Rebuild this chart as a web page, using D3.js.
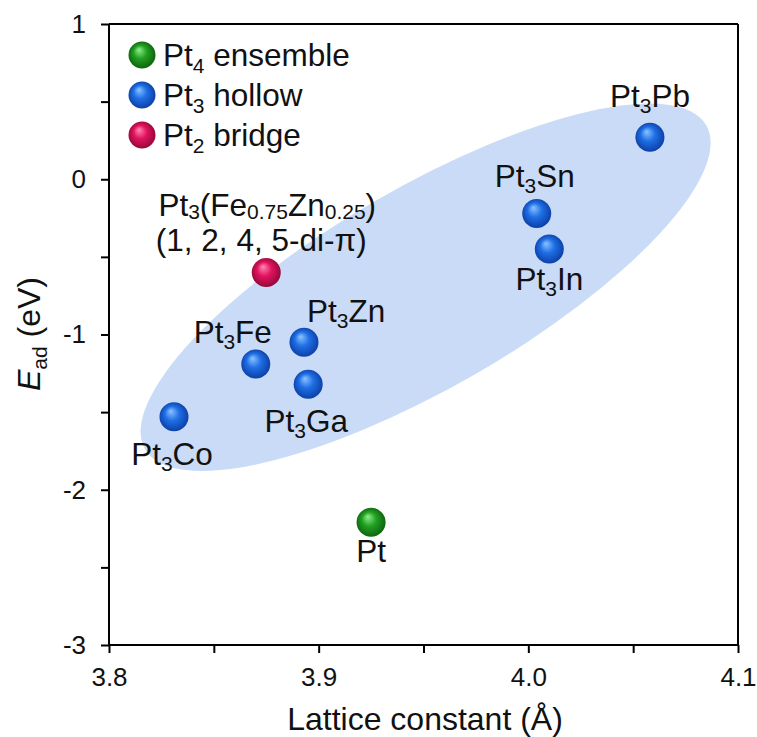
<!DOCTYPE html>
<html>
<head>
  <meta charset="utf-8">
  <script src="https://cdn.jsdelivr.net/npm/d3@7"></script>
<style>
  body {
    margin: 0;
    background: #fff;
  }
  text {
    font-family: Arial, "Liberation Sans", sans-serif;
    fill: #111;
  }
</style>
</head>
<body>
<script type="text/javascript">
  // data
  var names = ["Pt_{3}Co", "Pt_{3}Fe", "Pt_{3}Zn", "Pt_{3}Ga", "Pt_{3}Sn", "Pt_{3}In", "Pt_{3}Pb", "Pt", "Pt_{3}(Fe_{0.75}Zn_{0.25})"];
  var lattice = [3.831, 3.870, 3.893, 3.895, 4.004, 4.010, 4.058, 3.925, 3.875];
  var energy = [-1.53, -1.19, -1.05, -1.32, -0.22, -0.45, 0.27, -2.21, -0.60];
  var site = ["hollow", "hollow", "hollow", "hollow", "hollow", "hollow", "hollow", "ensemble", "bridge"];

  var legendNames = ["Pt_{4} ensemble", "Pt_{3} hollow", "Pt_{2} bridge"];
  var legendSites = ["ensemble", "hollow", "bridge"];

  var xTicks = [3.8, 3.9, 4.0, 4.1];
  var xMinor = [3.85, 3.95, 4.05];
  var yTicks = [1, 0, -1, -2, -3];
  var yMinor = [0.5, -0.5, -1.5, -2.5];

  // shaded trend region (centre in data units)
  var ellipseCentre = [3.951, -0.696];

  var width = 757, height = 737;
  var fs = 31.5;

  var svg = d3.select("body").append("svg")
      .attr("width", width)
      .attr("height", height);

  var x = d3.scaleLinear().domain([3.8, 4.1]).range([109, 738]);
  var y = d3.scaleLinear().domain([-3, 1]).range([645, 24]);

  var colors = {
    ensemble: ["#8ff08f", "#22a022", "#0b5c0b"],
    hollow: ["#8cc4ff", "#1f6fe6", "#0a3a9e"],
    bridge: ["#ff8ab5", "#e3125f", "#8a0834"]
  };

  var defs = svg.append("defs");
  Object.keys(colors).forEach(function (k) {
    var g = defs.append("radialGradient")
        .attr("id", "ball-" + k)
        .attr("cx", "0.5").attr("cy", "0.5").attr("r", "0.55")
        .attr("fx", "0.38").attr("fy", "0.3");
    g.append("stop").attr("offset", "0%").attr("stop-color", colors[k][0]);
    g.append("stop").attr("offset", "45%").attr("stop-color", colors[k][1]);
    g.append("stop").attr("offset", "100%").attr("stop-color", colors[k][2]);
  });

  // text with _{...} subscripts
  function richText(sel, str, size, drop) {
    var parts = str.split(/_\{([^}]*)\}/);
    var shift = 0;
    parts.forEach(function (p, i) {
      if (p === "") return;
      var sub = i % 2 === 1;
      var dy = sub ? drop - shift : -shift;
      shift = sub ? drop : 0;
      sel.append("tspan")
          .attr("dy", dy)
          .style("font-size", sub ? Math.round(size * 0.66) + "px" : size + "px")
          .text(p);
    });
  }

  // ellipse
  svg.append("ellipse")
      .attr("cx", 0).attr("cy", 0)
      .attr("rx", 324).attr("ry", 100)
      .attr("transform", "translate(" + x(ellipseCentre[0]) + "," + y(ellipseCentre[1]) + ") rotate(-30)")
      .style("fill", "#c9dbf6");

  // axes
  var axisColor = "#000";
  svg.append("line").attr("x1", 109).attr("x2", 738).attr("y1", 24).attr("y2", 24)
      .style("stroke", axisColor).style("stroke-width", 2);
  svg.append("line").attr("x1", 738).attr("x2", 738).attr("y1", 24).attr("y2", 645)
      .style("stroke", axisColor).style("stroke-width", 2);

  var xAxis = svg.append("g")
      .attr("transform", "translate(0,645)")
      .call(d3.axisBottom(x).tickValues(xTicks.concat(xMinor))
        .tickSize(8).tickPadding(15)
        .tickFormat(function (d) { return xTicks.indexOf(d) >= 0 ? d3.format(".1f")(d) : ""; }));

  var yAxis = svg.append("g")
      .attr("transform", "translate(109,0)")
      .call(d3.axisLeft(y).tickValues(yTicks.concat(yMinor))
        .tickSize(8).tickPadding(15)
        .tickFormat(function (d) { return yTicks.indexOf(d) >= 0 ? d3.format("d")(d).replace("−", "-") : ""; }));

  [xAxis, yAxis].forEach(function (a) {
    a.select(".domain").style("stroke", axisColor).style("stroke-width", 2);
    a.selectAll(".tick line").style("stroke", axisColor).style("stroke-width", 2);
    a.selectAll(".tick text")
        .style("font-family", "Arial, 'Liberation Sans', sans-serif")
        .style("font-size", "26px")
        .style("fill", "#111");
  });
  xAxis.select(".domain").attr("d", "M109,0H738");
  yAxis.select(".domain").attr("d", "M0,24V645");

  // axis titles
  svg.append("text")
      .attr("x", 425).attr("y", 730)
      .style("text-anchor", "middle")
      .style("font-size", "32px")
      .text("Lattice constant (Å)");

  var yt = svg.append("text")
      .attr("transform", "translate(40,334) rotate(-90)")
      .style("text-anchor", "middle")
      .style("font-size", "32px");
  yt.append("tspan").style("font-style", "italic").text("E");
  yt.append("tspan").attr("dy", 7).style("font-size", "21px").text("ad");
  yt.append("tspan").attr("dy", -7).text(" (eV)");

  // points
  var idx = d3.range(names.length);
  svg.selectAll("circle.pt")
      .data(idx)
      .enter()
      .append("circle")
      .attr("class", "pt")
      .attr("cx", function (i) { return x(lattice[i]); })
      .attr("cy", function (i) { return y(energy[i]); })
      .attr("r", 14.5)
      .style("fill", function (i) { return "url(#ball-" + site[i] + ")"; });

  // label placement relative to each point: [dx, dy, anchor, subscript drop]
  var labelPos = {
    "Pt_{3}Co": [-2, 48, "middle", 6],
    "Pt_{3}Fe": [-23, -21, "middle", 6],
    "Pt_{3}Zn": [3, -20, "start", 6],
    "Pt_{3}Ga": [-2, 48, "middle", 6],
    "Pt_{3}Sn": [-2, -26, "middle", 6],
    "Pt_{3}In": [0, 41, "middle", 6],
    "Pt_{3}Pb": [0, -30, "middle", 6],
    "Pt": [0, 40, "middle", 6],
    "Pt_{3}(Fe_{0.75}Zn_{0.25})": [1, -56, "middle", 3]
  };

  idx.forEach(function (i) {
    var p = labelPos[names[i]];
    var t = svg.append("text")
        .attr("x", x(lattice[i]) + p[0])
        .attr("y", y(energy[i]) + p[1])
        .style("text-anchor", p[2]);
    richText(t, names[i], fs, p[3]);
  });

  // second line for the bridge point
  var b = names.length - 1;
  svg.append("text")
      .attr("x", x(lattice[b]) - 5)
      .attr("y", y(energy[b]) - 21)
      .style("text-anchor", "middle")
      .style("font-size", fs + "px")
      .text("(1, 2, 4, 5-di-π)");

  // legend
  legendNames.forEach(function (n, i) {
    svg.append("circle")
        .attr("cx", 142).attr("cy", 55 + i * 40)
        .attr("r", 13.5)
        .style("fill", "url(#ball-" + legendSites[i] + ")");
    var t = svg.append("text")
        .attr("x", 163).attr("y", 66 + i * 40);
    richText(t, n, fs, 7);
  });
</script>
</body>
</html>
